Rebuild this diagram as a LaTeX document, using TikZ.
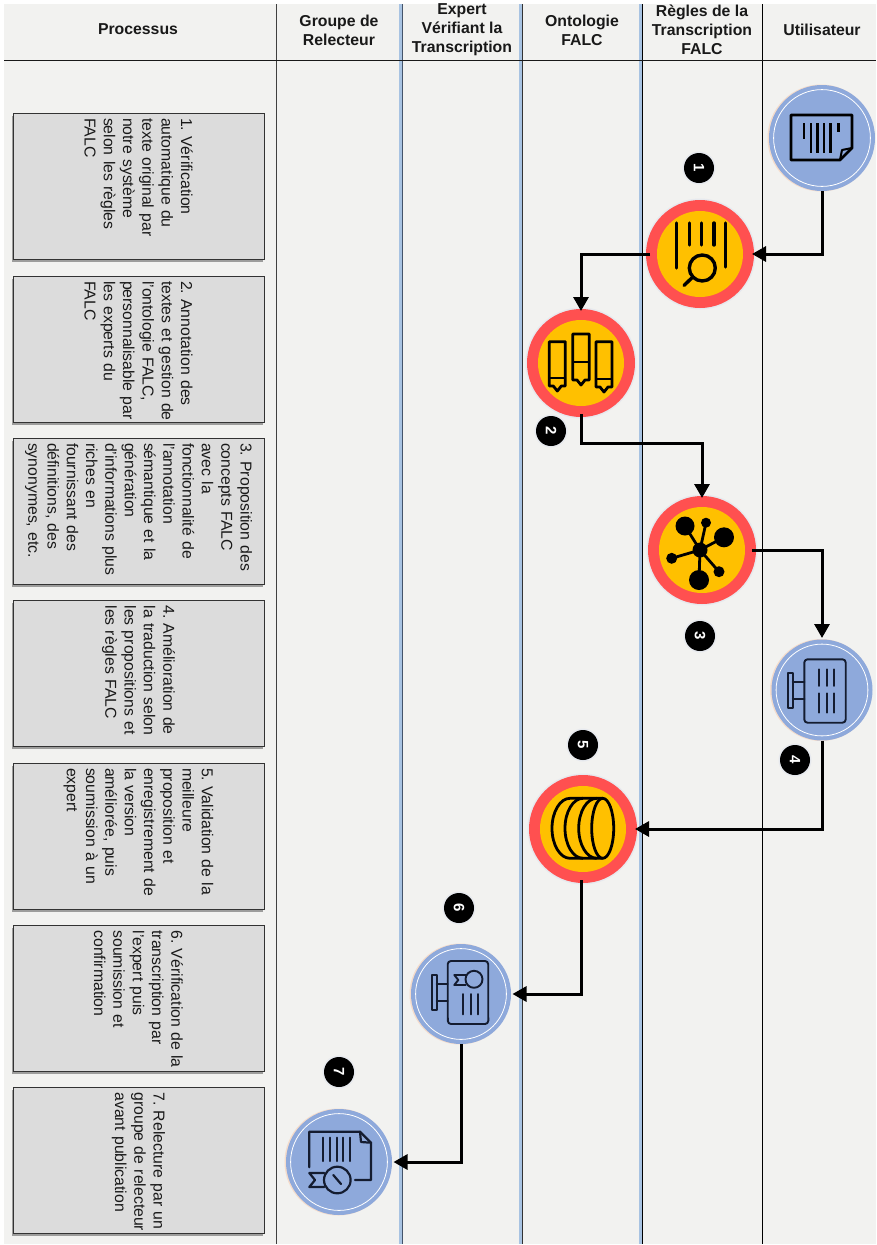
\documentclass[tikz,border=0pt]{standalone}
\usepackage{fontspec}
\setmainfont{Liberation Sans}
\usetikzlibrary{arrows.meta,shadows,calc}
\definecolor{panel}{HTML}{F2F2F0}
\definecolor{boxgray}{HTML}{DCDCDC}
\definecolor{bluedisc}{HTML}{8EA9DB}
\definecolor{reddisc}{HTML}{FF5050}
\definecolor{amberdisc}{HTML}{FFC000}
\definecolor{slate}{HTML}{44546A}
\definecolor{glow}{HTML}{A8C3E2}
\definecolor{halo}{HTML}{F5DCCB}
\definecolor{halob}{HTML}{E6E9EE}
\definecolor{inkb}{HTML}{141C30}
\tikzset{
  headtext/.style={font=\fontsize{15.8}{19}\selectfont\bfseries,align=center,inner sep=0pt,text=black!90},
  procbox/.style={draw=black!80,line width=1pt,fill=boxgray,rotate=-90,
    minimum width=146pt,minimum height=251pt,text width=146pt,align=left,inner xsep=0pt,inner ysep=0pt,
    font=\fontsize{15.8}{19.3}\selectfont,text=black!90,
    execute at begin node={\leftskip=5pt\relax\frenchspacing},
    drop shadow={shadow xshift=-1pt,shadow yshift=-2.5pt,opacity=.35,fill=black}},
  bdisc/.style={circle,fill=bluedisc,inner sep=0pt,outer sep=0pt},
  rdisc/.style={circle,fill=reddisc,inner sep=0pt,outer sep=0pt,minimum size=108pt},
  badge/.style={circle,fill=black,text=white,inner sep=0pt,minimum size=30pt,rotate=-90,
    font=\fontsize{15}{15}\selectfont\bfseries},
  flow/.style={line width=3pt,-{Triangle[length=14pt,width=15pt]},shorten >=1.5pt},
  intored/.style={flow,shorten >=-2pt},
  icon/.style={line width=2.8pt,draw=black,line join=round},
  iconb/.style={line width=1.9pt,draw=inkb,line join=round,line cap=round},
}
\newcommand{\bluenode}[4]{%
  \fill[halo] (#2-1,#3) circle (#4+0.5);
  \node[bdisc,minimum size=#4*2pt] (#1) at (#2,#3) {};
  \draw[white,line width=0.8pt] (#1) circle (#4-4.6);
}
\newcommand{\rednode}[3]{%
  \fill[halob] (#2,#3) circle (55.5);
  \node[rdisc] (#1) at (#2,#3) {};
  \fill[amberdisc] (#1) circle (43);
}
\newcommand{\badgenode}[4]{%
  \fill[halob] (#2,#3) circle (16.5);
  \node[badge] (#1) at (#2,#3) {#4};
}
\begin{document}
\begin{tikzpicture}[x=1pt,y=-1pt]
\useasboundingbox (0,0) rectangle (876,1245);
\fill[white] (0,0) rectangle (876,1245);
\fill[panel] (4,4) rectangle (876,1244);
% lanes
\fill[glow] (399,4) rectangle (402,1244);
\fill[glow] (519,4) rectangle (522,1244);
\fill[glow] (639,4) rectangle (642,1244);
\draw[line width=1pt,draw=black!75] (276,4) -- (276,1244);
\draw[line width=1.4pt,draw=slate] (402.5,4) -- (402.5,1244);
\draw[line width=1.2pt,draw=black!80] (522.5,4) -- (522.5,1244);
\draw[line width=1pt,draw=black] (642.5,4) -- (642.5,1244);
\draw[line width=1pt,draw=black] (762.5,4) -- (762.5,1244);
\draw[line width=1pt,draw=black!90] (4,60.5) -- (876,60.5);
% headers
\node[headtext] (h1) at (138,29.5) {Processus};
\node[headtext] (h2) at (339,30) {Groupe de\\Relecteur};
\node[headtext] (h3) at (462,29.5) {Expert\\Vérifiant la\\Transcription};
\node[headtext] (h4) at (582,30) {Ontologie\\FALC};
\node[headtext] (h5) at (702,29.5) {Règles de la\\Transcription\\FALC};
\node[headtext] (h6) at (822,29.5) {Utilisateur};
% process boxes
\node[procbox] (p1) at (138.5,186) {1. Vérification\\automatique du\\texte original par\\notre système\\selon les règles\\FALC};
\node[procbox] (p2) at (138.5,349) {2. Annotation des\\textes et gestion de\\l'ontologie FALC,\\personnalisable par\\les experts du\\FALC};
\node[procbox] (p3) at (138.5,511) {3. Proposition des\\concepts FALC\\avec la\\fonctionnalité de\\l'annotation\\sémantique et la\\génération\\d'informations plus\\riches en\\fournissant des\\définitions, des\\synonymes, etc.};
\node[procbox] (p4) at (138.5,673.5) {4. Amélioration de\\la traduction selon\\les propositions et\\les règles FALC};
\node[procbox] (p5) at (138.5,836) {5. Validation de la\\meilleure\\proposition et\\enregistrement de\\la version\\améliorée, puis\\soumission à un\\expert};
\node[procbox] (p6) at (138.5,998.5) {6. Vérification de la\\transcription par\\l'expert puis\\soumission et\\confirmation};
\node[procbox] (p7) at (138.5,1160.5) {7. Relecture par un\\groupe de relecteur\\avant publication};
% discs
\bluenode{b1}{822}{138}{53}
\rednode{r1}{700}{254}
\rednode{r2}{581}{363}
\rednode{r3}{702}{550}
\bluenode{b4}{822}{690}{50.5}
\rednode{r5}{583}{829}
\bluenode{b6}{461}{994}{50}
\bluenode{b7}{339}{1162}{53}
% badges
\badgenode{n1}{699}{168}{1}
\badgenode{n2}{551}{431}{2}
\badgenode{n3}{700}{636}{3}
\badgenode{n4}{795}{760}{4}
\badgenode{n5}{583}{745}{5}
\badgenode{n6}{459}{908}{6}
\badgenode{n7}{339}{1072}{7}
% connectors
\coordinate (c1) at (581,443);
\draw[intored] (b1.south) |- (r1.east);
\draw[intored] ([xshift=4pt]r1.west) -| (r2.north);
\draw[intored] ([yshift=3pt]r2.south) -- (c1) -| (r3.north);
\draw[flow] ([xshift=-4pt]r3.east) -| (b4.north);
\draw[intored] (b4.south) |- (r5.east);
\draw[flow] ([xshift=-2pt,yshift=3pt]r5.south) |- (b6.east);
\draw[flow] (b6.south) |- (b7.east);
% icon b1: document
\draw[icon] (840,160) -- (791,160) -- (791,115) -- (852,115) -- (852,148) -- cycle;
\draw[icon,line width=2pt] (852,148) -- (842,150) -- (840,160);
\foreach \x/\y in {804/139,811/153,817.5/153,824/153,830.7/153,838.7/132}
  \draw[icon] (\x,123) -- (\x,\y);
% icon r1: bars and magnifier
\draw[icon,line width=3.4pt,line cap=round] (676.7,223) -- (676.7,268) (725.7,223) -- (725.7,267)
  (689.3,223) -- (689.3,245) (701.7,223) -- (701.7,245) (714,223) -- (714,245);
\draw[icon,line width=3.4pt] (702.3,268) circle (13);
\draw[icon,line width=3.4pt,line cap=round] (691.7,278) -- (684,285.5);
% icon r2: three pens
\foreach \l/\r/\t/\b/\m in {549.3/565.3/341.7/386/378, 572.7/589.3/334/380/362, 596/612/341.7/387/379}{
  \draw[icon] (\l,\b) -- (\l,\t) -- (\r,\t) -- (\r,\b) -- ({(\l+\r)/2+4},\b) -- ({(\l+\r)/2},\b+5) -- ({(\l+\r)/2-4},\b) -- cycle;
  \draw[icon] (\l,\m) -- (\r,\m);
}
% icon r3: network
\fill (700,550) circle (7.5) (685,526) circle (9.5) (706,522.7) circle (5) (724,537.3) circle (10)
  (671.7,558.3) circle (5.5) (699,580) circle (10) (719,571.7) circle (5.5);
\draw[icon] (700,550) -- (685,526) (700,550) -- (706,522.7) (700,550) -- (724,537.3)
  (700,550) -- (671.7,558.3) (700,550) -- (699,580) (700,550) -- (719,571.7);
% icon b4: panel
\draw[iconb] (807.5,659.3) -- (842.5,659.3) arc[start angle=-90,end angle=0,radius=3.2] -- (845.7,719.5)
  arc[start angle=0,end angle=90,radius=3.2] -- (807.5,722.7) arc[start angle=90,end angle=180,radius=3.2]
  -- (804.3,662.5) arc[start angle=180,end angle=270,radius=3.2] -- cycle;
\draw[iconb] (788.3,673.3) rectangle (792.7,708.3);
\draw[iconb] (792.7,682.3) -- (804.3,682.3) (792.7,699.3) -- (804.3,699.3);
\foreach \x in {819.3,826.7,834.3}
  \draw[iconb] (\x,669.3) -- (\x,686) (\x,693.3) -- (\x,712.7);
% icon r5: cylinder
\draw[icon] (602.7,828.3) ellipse (11 and 30);
\draw[icon] (602.7,798.3) -- (570,798.3) arc[start angle=270,end angle=90,x radius=18,y radius=30] -- (602.7,858.3);
\draw[icon] (583,798.3) arc[start angle=270,end angle=90,x radius=18,y radius=30];
\draw[icon] (596.7,798.3) arc[start angle=270,end angle=90,x radius=18,y radius=30];
% icon b6: certificate panel
\draw[iconb] (451,961) -- (485,961) arc[start angle=-90,end angle=0,radius=3.2] -- (488.3,1020.8)
  arc[start angle=0,end angle=90,radius=3.2] -- (451,1024) arc[start angle=90,end angle=180,radius=3.2]
  -- (447.7,964.2) arc[start angle=180,end angle=270,radius=3.2] -- cycle;
\draw[iconb] (432.3,975) rectangle (436.7,1010);
\draw[iconb] (436.7,984) -- (447.7,984) (436.7,1000.7) -- (447.7,1000.7);
\draw[iconb] (474,979.3) circle (8.5);
\draw[iconb] (465.7,975) -- (454.3,975) -- (458.3,980) -- (454.3,985) -- (465.7,985);
\foreach \x in {463.3,470.7,478.3}
  \draw[iconb] (\x,994) -- (\x,1014.3);
% icon b7: document with medal
\draw[iconb,line width=2.2pt] (309.3,1167.3) -- (309.3,1131.7) -- (360,1131.7) -- (371,1142.7) -- (371,1180) -- (355,1180);
\draw[iconb,line width=2.2pt] (360,1131.7) -- (361,1142) -- (371,1142.7);
\foreach \x in {323.3,330,336.7,343.3,350}
  \draw[iconb,line width=2.2pt] (\x,1137.7) -- (\x,1161);
\draw[iconb,line width=2.2pt] (337.3,1180) circle (13.3);
\draw[iconb,line width=2.2pt] (333.3,1175) -- (341,1184);
\draw[iconb,line width=2.2pt] (324.3,1173) -- (309.3,1173) -- (315,1180) -- (309.3,1187) -- (324.3,1187);
\end{tikzpicture}
\end{document}
